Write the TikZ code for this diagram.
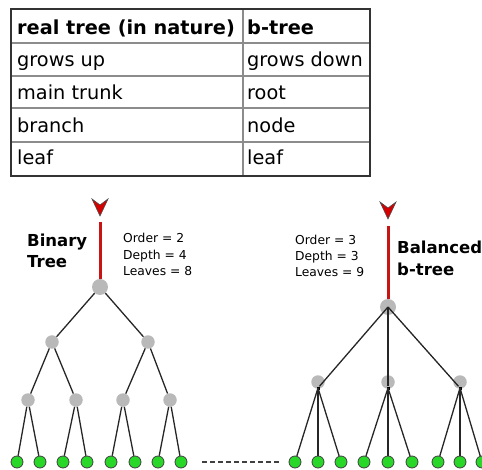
\documentclass[tikz,border=0pt]{standalone}
\usepackage{fontspec}
\setmainfont{DejaVu Sans}
\definecolor{leafgreen}{RGB}{40,215,40}
\definecolor{trunkred}{RGB}{200,20,20}
\definecolor{tipred}{RGB}{215,0,0}
\begin{document}
\begin{tikzpicture}[x=1pt,y=-1pt,
  cell/.style={anchor=base west, inner sep=0pt, font=\fontsize{19.3}{19.3}\selectfont},
  headcell/.style={cell, font=\fontsize{19.3}{19.3}\selectfont\bfseries},
  outerrule/.style={draw=black!80, line width=2.5pt},
  innerrule/.style={draw=black!45, line width=1.6pt},
  gnode/.style={circle, fill=gray!55, inner sep=0pt, minimum size=#1},
  gnode/.default=13.5pt,
  hub/.style={rectangle, fill=black, inner sep=0pt, minimum size=3pt},
  leaf/.style={circle, fill=leafgreen, draw=black!75, line width=0.8pt, inner sep=0pt, minimum size=12pt},
  branch/.style={draw=black!85, line width=1.3pt},
  trunk/.style={draw=trunkred, line width=3pt},
  tiphead/.style={fill=tipred, draw=black!70, line width=0.6pt, line join=miter},
  stat/.style={anchor=base west, inner sep=0pt, font=\fontsize{12.3}{12.3}\selectfont},
  title/.style={anchor=base west, inner sep=0pt, font=\fontsize{16.5}{16.5}\selectfont\bfseries}
]
\useasboundingbox (0,0) rectangle (482,470);

% ---------- comparison table ----------
\foreach \yy in {43,76,108,142} \draw[innerrule] (11,\yy) -- (370,\yy);
\draw[innerrule] (243,9) -- (243,176);
\draw[outerrule] (11,9) rectangle (370,176);

\node[headcell] (h1) at (17,35) {real tree (in nature)};
\node[headcell] (h2) at (247,35) {b-tree};
\node[cell] (a1) at (17,67)  {grows up};
\node[cell] (b1) at (247,67) {grows down};
\node[cell] (a2) at (17,100) {main trunk};
\node[cell] (b2) at (247,100) {root};
\node[cell] (a3) at (17,133) {branch};
\node[cell] (b3) at (247,133) {node};
\node[cell] (a4) at (17,165) {leaf};
\node[cell] (b4) at (247,165) {leaf};

% ---------- binary tree ----------
\coordinate (Ltop) at (100,222);
\fill[tiphead] (92,199) -- (100,205) -- (108,199) -- (100,216) -- cycle;
\node[title] (Lt1) at (27,247) {Binary};
\node[title] (Lt2) at (27,268) {Tree};
\node[stat] (Ls1) at (123,243) {Order = 2};
\node[stat] (Ls2) at (123,260) {Depth = 4};
\node[stat] (Ls3) at (123,276) {Leaves = 8};

\node[gnode=16pt] (L) at (100,287) {};
\draw[trunk] (Ltop) -- (L);
\node[gnode] (L1) at (52,342) {};
\node[gnode] (L2) at (148,342) {};
\node[gnode] (L11) at (28,400) {};
\node[gnode] (L12) at (76,400) {};
\node[gnode] (L21) at (123,400) {};
\node[gnode] (L22) at (170,400) {};
\foreach \i/\x in {1/17,2/40,3/63,4/87,5/111,6/135,7/158,8/181}
  \node[leaf] (Lf\i) at (\x,462) {};

\draw[branch] (L) -- (L1);  \draw[branch] (L) -- (L2);
\draw[branch] (L1) -- (L11); \draw[branch] (L1) -- (L12);
\draw[branch] (L2) -- (L21); \draw[branch] (L2) -- (L22);
\draw[branch] (L11) -- (Lf1); \draw[branch] (L11) -- (Lf2);
\draw[branch] (L12) -- (Lf3); \draw[branch] (L12) -- (Lf4);
\draw[branch] (L21) -- (Lf5); \draw[branch] (L21) -- (Lf6);
\draw[branch] (L22) -- (Lf7); \draw[branch] (L22) -- (Lf8);

% ---------- gap between the two trees ----------
\coordinate (gapL) at (202,462);
\coordinate (gapR) at (281,462);
\draw[draw=black!75, line width=1.8pt, dash pattern=on 5pt off 3pt] (gapL) -- (gapR);

% ---------- balanced b-tree ----------
\coordinate (Rtop) at (388,226);
\fill[tiphead] (380,202) -- (388,208) -- (396,202) -- (388,219) -- cycle;
\node[stat] (Rs1) at (295,245) {Order = 3};
\node[stat] (Rs2) at (295,261) {Depth = 3};
\node[stat] (Rs3) at (295,277) {Leaves = 9};
\node[title] (Rt1) at (397,254) {Balanced};
\node[title] (Rt2) at (397,276) {b-tree};

\node[gnode=16pt] (R) at (388,307) {};
\draw[trunk] (Rtop) -- (R);
\foreach \k/\x in {1/318,2/388,3/460}{
  \node[gnode] (Rg\k) at (\x,382) {};
  \node[hub] (R\k) at (\x,388) {};
}
\draw[branch] (R.center) -- (R1);
\draw[branch] (R.center) -- (R2);
\draw[branch] (R.center) -- (R3);
\foreach \i/\x in {1/295,2/318,3/341,4/364,5/388,6/412,7/438,8/460,9/482}
  \node[leaf] (Rf\i) at (\x,462) {};
\foreach \k/\a/\b/\c in {1/1/2/3,2/4/5/6,3/7/8/9}{
  \draw[branch] (R\k.center) -- (Rf\a);
  \draw[branch] (R\k.center) -- (Rf\b);
  \draw[branch] (R\k.center) -- (Rf\c);
}
\end{tikzpicture}
\end{document}
